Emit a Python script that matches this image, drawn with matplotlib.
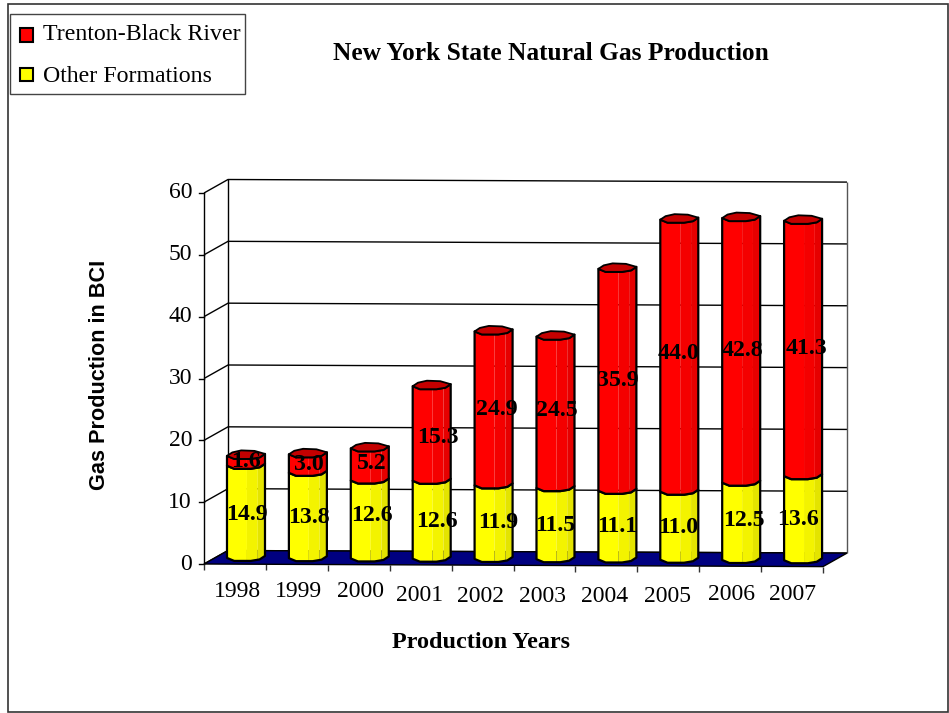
import numpy as np
import matplotlib
matplotlib.use('Agg')
import matplotlib.pyplot as plt
from matplotlib.patches import Rectangle, Polygon

years = ['1998', '1999', '2000', '2001', '2002', '2003', '2004', '2005', '2006', '2007']
other_formations = [14.9, 13.8, 12.6, 12.6, 11.9, 11.5, 11.1, 11.0, 12.5, 13.6]
trenton_black_river = [1.6, 3.0, 5.2, 15.3, 24.9, 24.5, 35.9, 44.0, 42.8, 41.3]
y_ticks = [0, 10, 20, 30, 40, 50, 60]

# hand placed label offsets in pixels (dx, dy, dy up is positive)
other_dx = [1, 1, 2, 5, 5, 0, 0, -1, 3, -5]
other_dy = [-3, -2, 4, -2, 0, -2, -1, -2, 1, -1]
trenton_dx = [0, 1, 2, 6, 3, 1, 0, -1, 1, 3]
trenton_dy = [-1, -1, 1, -4, -1, 2, -1, 2, 0, 0]
year_dx = [1, 0, 0, -3, -4, -4, -4, -3, -1, -2]
year_dy = [2, 2, 2, 6, 6, 6, 6, 6, 3, 3]

SERIF = 'Liberation Serif'
RED = ['#ff0000', '#f40000', '#e60000']
YELLOW = ['#ffff00', '#f3f300', '#e4e400']
RED_CAP = '#c40000'

# pixels per data unit on the front plane
X_PX = (823 - 204) / 10
Y_PX = (564 - 193) / 60
DEPTH_X = 24 / X_PX
DEPTH_Y = 13.5 / Y_PX
TILT = 0.042  # the whole box leans down slightly to the right


def project(x, v, d=0.0):
    # category position, value and depth (0 front, 1 back) to axes data
    return x + d * DEPTH_X, v + d * DEPTH_Y - TILT * x


fig = plt.figure(figsize=(9.49, 7.13), dpi=100)

# page layer, in pixels
page = fig.add_axes([0, 0, 1, 1])
page.set_xlim(0, 949)
page.set_ylim(713, 0)
page.axis('off')
page.add_patch(Rectangle((8, 4), 940, 708, fill=False, ec='#333333', lw=1.2))
page.add_patch(Rectangle((10, 13.5), 235, 80.5, fill=False, ec='#444444', lw=1.0))
page.add_patch(Rectangle((20.5, 28), 13, 13.5, fc='#ff0000', ec='black', lw=1.5))
page.add_patch(Rectangle((20.5, 67.5), 13, 13.5, fc='#ffff00', ec='black', lw=1.5))
page.text(43, 35, 'Trenton-Black River', family=SERIF, fontsize=17.2, va='center', ha='left')
page.text(43, 76, 'Other Formations', family=SERIF, fontsize=17.2, va='center', ha='left')
page.text(551, 54, 'New York State Natural Gas Production', family=SERIF, fontsize=18.3,
          fontweight='bold', va='center', ha='center')
page.text(100, 375, 'Gas Production in BCI', family='Liberation Sans', fontsize=15.6,
          fontweight='bold', rotation=90, va='center', ha='center')
page.text(481, 642, 'Production Years', family=SERIF, fontsize=17.4,
          fontweight='bold', va='center', ha='center')

# chart layer: x is the category position, y the value
ax = fig.add_axes([204 / 949, 1 - 564 / 713, (823 - 204) / 949, (564 - 193) / 713])
ax.set_xlim(0, 10)
ax.set_ylim(0, 60)
ax.axis('off')
ax.patch.set_alpha(0)


def line(points, color='black', lw=1.0, z=2):
    xs, ys = zip(*points)
    ax.plot(xs, ys, color=color, lw=lw, zorder=z, clip_on=False, solid_capstyle='butt')


n = len(years)
top = y_ticks[-1]

# floor
ax.add_patch(Polygon([project(0, 0), project(n, 0), project(n, 0, 1), project(0, 0, 1)],
                     closed=True, fc='#000080', ec='black', lw=1.0, zorder=3, clip_on=False))

# walls, gridlines and ticks
for t in y_ticks:
    line([project(0, t), project(0, t, 1), project(n, t, 1)], lw=1.0)
    x0, y0 = project(0, t)
    ax.plot([x0 - 5 / X_PX, x0], [y0, y0], color='black', lw=1.0, clip_on=False)
    ax.annotate(str(t), (x0, y0), xytext=(-12, 0), textcoords='offset pixels', family=SERIF,
                fontsize=17, ha='right', va='center', annotation_clip=False)
line([project(0, 0), project(0, top)], lw=1.0)
line([project(0, 0, 1), project(0, top, 1)], lw=1.0)
line([project(n, 0, 1), project(n, top, 1)], color='#555555', lw=1.0)
for i in range(n + 1):
    line([project(i, 0), (project(i, 0)[0], project(i, 0)[1] - 6 / Y_PX)], color='#333333', lw=1.0)

for i, year in enumerate(years):
    x, v = project(i + 0.5, 0)
    ax.annotate(year, (x, v), xytext=(2 + year_dx[i], -25 - year_dy[i]), textcoords='offset pixels',
                family=SERIF, fontsize=17, ha='center', va='center', annotation_clip=False)

# bars, built as faceted cylinders standing midway through the depth
BAR_HALF = 19 / X_PX
BAR_DEPTH = 0.46
# outline of the cylinder end: position across the bar and pixel drop from centre
front_u = np.array([-1.0, -0.62, 0.25, 0.72, 1.0])
front_px = np.array([0.0, 3.0, 3.0, 1.5, -2.0])
back_u = np.array([1.0, 0.45, -0.25, -0.72, -1.0])
back_px = np.array([-2.0, -5.0, -5.5, -3.5, 0.0])
facets = [(-1.0, 0.05), (0.05, 0.62), (0.62, 1.0)]


def front_edge(cx, v, u):
    xp, yp = project(cx, v, BAR_DEPTH)
    drop = np.interp(u, front_u, front_px)
    return xp + u * BAR_HALF, yp - drop / Y_PX


def draw_segment(cx, v0, v1, colors, z):
    for (a, b), col in zip(facets, colors):
        us = np.array([a] + [u for u in front_u if a < u < b] + [b])
        low = [front_edge(cx, v0, u) for u in us]
        high = [front_edge(cx, v1, u) for u in us[::-1]]
        ax.add_patch(Polygon(low + high, closed=True, fc=col, ec='none', zorder=z, clip_on=False))
    outline_low = [front_edge(cx, v0, u) for u in front_u]
    outline_high = [front_edge(cx, v1, u) for u in front_u[::-1]]
    ax.add_patch(Polygon(outline_low + outline_high, closed=True, fill=False, ec='black',
                         lw=1.6, zorder=z + 0.1, clip_on=False, joinstyle='round'))


for i in range(n):
    cx = i + 0.5
    a = other_formations[i]
    b = trenton_black_river[i]
    draw_segment(cx, 0, a, YELLOW, 4)
    draw_segment(cx, a, a + b, RED, 5)
    # top cap
    front = [front_edge(cx, a + b, u) for u in front_u]
    xp, yp = project(cx, a + b, BAR_DEPTH)
    back = [(xp + u * BAR_HALF, yp - p / Y_PX) for u, p in zip(back_u, back_px)]
    ax.add_patch(Polygon(front + back, closed=True, fc=RED_CAP, ec='black', lw=1.3,
                         zorder=6, clip_on=False, joinstyle='round'))

    # value labels sit at the middle of each segment
    lx, ly = project(cx, a / 2, BAR_DEPTH)
    ax.annotate(f'{a:.1f}', (lx, ly), xytext=(other_dx[i], other_dy[i]), textcoords='offset pixels',
                family=SERIF, fontsize=17.2, fontweight='bold', ha='center', va='center',
                zorder=8, annotation_clip=False)
    lx, ly = project(cx, a + b / 2, BAR_DEPTH)
    ax.annotate(f'{b:.1f}', (lx, ly), xytext=(trenton_dx[i], trenton_dy[i]), textcoords='offset pixels',
                family=SERIF, fontsize=17.2, fontweight='bold', ha='center', va='center',
                zorder=8, annotation_clip=False)

fig.savefig('out.png', dpi=100)
